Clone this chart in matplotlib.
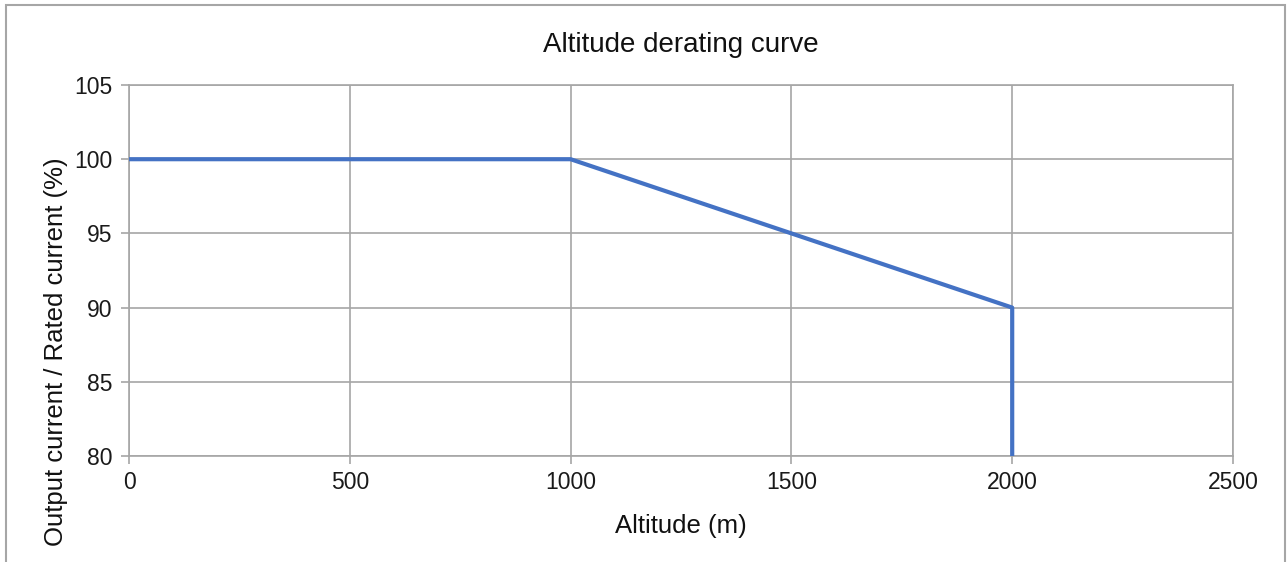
import matplotlib.pyplot as plt
from matplotlib.patches import Rectangle

plt.rcParams['font.family'] = ['Liberation Sans', 'DejaVu Sans']

# 数据
altitude = [0, 1000, 1500, 2000, 2000]
current = [100, 100, 95, 90, 80]
x_ticks = [0, 500, 1000, 1500, 2000, 2500]
y_ticks = [80, 85, 90, 95, 100, 105]

fig = plt.figure(figsize=(12.87, 5.62), dpi=100)
ax = fig.add_axes([129 / 1287, 1 - 456 / 562, (1233 - 129) / 1287, (456 - 85) / 562])

ax.plot(altitude, current, color='#4472C4', linewidth=3, solid_capstyle='butt', zorder=3)

ax.set_xlim(0, 2500)
ax.set_ylim(80, 105)
ax.set_xticks(x_ticks)
ax.set_yticks(y_ticks)
ax.grid(True, color='#A6A6A6', linewidth=1.2)
for s in ax.spines.values():
    s.set_color('#A6A6A6')
    s.set_linewidth(1.2)
ax.tick_params(colors='#A6A6A6', labelcolor='#1A1A1A', labelsize=16.5, length=6, width=1.2)
ax.tick_params(axis='x', pad=5)
ax.tick_params(axis='y', pad=6)

ax.set_title('Altitude derating curve', fontsize=20, pad=24, color='#111111')
ax.set_xlabel('Altitude (m)', fontsize=18.5, labelpad=14, color='#111111')
ax.set_ylabel('Output current / Rated current (%)', fontsize=18.5, color='#111111')
ax.yaxis.set_label_coords(-0.055, 0.28)

# 外框
fig.patches.append(Rectangle((6 / 1287, -0.01), 1279 / 1287, 1 - 5 / 562 + 0.01,
                             transform=fig.transFigure, fill=False,
                             edgecolor='#A6A6A6', linewidth=1.5))

fig.savefig('out.png', dpi=100)
